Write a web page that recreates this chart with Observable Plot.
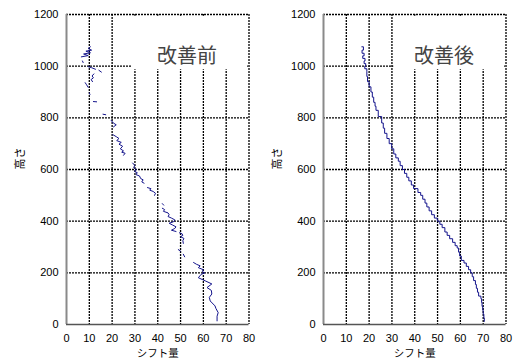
<!DOCTYPE html>
<html>
<head>
<meta charset="utf-8">
<script src="https://cdn.jsdelivr.net/npm/d3@7"></script>
<script src="https://cdn.jsdelivr.net/npm/@observablehq/plot@0.6"></script>
<style>
  html, body { margin: 0; padding: 0; background: #fff; }
  #wrap { display: flex; width: 515px; height: 364px; }
</style>
</head>
<body>
<div id="wrap"></div>
<script>
// ---- data ----
const panelTitles = ["改善前", "改善後"];
const xLabel = "シフト量";
const yLabel = "高さ";
const xTicks = [0, 10, 20, 30, 40, 50, 60, 70, 80];
const yTicks = [0, 200, 400, 600, 800, 1000, 1200];

// 改善前: broken, noisy trace (segments)
const beforeSegments = [
  [[10.5,1075],[9.5,1068],[11,1062],[8.5,1058],[10.5,1052],[7.5,1047],[9.5,1041],[6.5,1036]],
  [[7,1020],[7.3,1014]],
  [[9.5,998],[11,994],[12.7,988]],
  [[14.2,984],[15.3,977]],
  [[12,970],[11.2,962],[11.8,955],[10.8,948],[11.4,940]],
  [[8.2,936],[8.8,928],[9.5,918]],
  [[10,896],[10.3,891]],
  [[11.8,863],[13.2,862]],
  [[16,814],[17.2,812]],
  [[19.6,790],[20.5,780],[21.8,773],[20.6,765]],
  [[20.3,735],[22,726],[23,720],[22,712],[24,705],[23,698],[24.6,690],[23.6,680],[25,672],[24.2,667],[25.7,663],[25,655]],
  [[29,625],[30,615],[29.4,608],[30.6,600],[29.8,592],[31,588],[30.5,580],[32,575],[32.5,565],[33.6,560],[33,552],[34,547]],
  [[35.5,530],[37,526],[36.5,520],[38,515],[39,508],[38.6,500]],
  [[42,468],[42.6,462]],
  [[42,450],[43,445],[42.5,438],[44.5,432],[45,425],[44.5,418],[46,412],[47.5,405],[47,398],[45,392],[46.5,385],[48,378],[47.5,372],[46,365],[48,360]],
  [[49.5,355],[50.6,352],[51,345],[50,340],[51.5,333],[51,325],[51.2,314]],
  [[49,290],[50,284]],
  [[51.2,272],[51.8,262]],
  [[55.7,240],[57,233],[58.6,227],[57.8,220],[60,212],[59.5,205],[60.6,200],[59,194],[57.8,181],[60.8,169],[63.7,157],[61.6,143],[63.5,132],[63.7,118],[62.6,105],[63,91],[65.1,72],[65.5,62],[66.5,46],[66,32],[66,14]]
];

// 改善後: smooth staircase trace
const afterPoints = [
  [16.8,1075],[17.5,1062],[16.9,1050],[17.8,1040],[17.2,1030],[18.2,1020],[17.8,1010],[18.5,1000],[18.1,990],[19,978],
  [19,960],[19.3,940],[20,920],[20.8,900],[21.4,880],[22,860],[22.6,845],[23,829],[24,805],[25.5,780],
  [26.2,760],[26.8,740],[27.8,720],[28.8,700],[29.9,680],[30.8,660],[31.7,645],[32.8,632],[33.6,615],[34.6,600],
  [35.5,585],[36.5,570],[37.4,556],[38.5,540],[39.5,526],[41.4,511],[42.6,500],[43.5,485],[44.5,470],[45.3,455],
  [46.3,440],[47.4,425],[48.6,412],[49.9,400],[51,388],[52,375],[53.2,358],[54.2,345],[55.3,332],[56.6,318],
  [57.7,305],[58.6,296],[59.2,280],[59.7,265],[60.4,248],[61.6,238],[62.6,225],[63.6,212],[64.5,200],[65.2,185],
  [65.8,170],[66.6,155],[67,140],[67.5,125],[68,110],[69,100],[69.3,85],[69.5,70],[69.8,55],[70,40],[70.3,25],[70.5,12]
];

// ---- build ----
const FONT = "'Liberation Sans', Arial, 'Noto Sans CJK JP', sans-serif";
const CJK = "'Noto Sans CJK JP', sans-serif";

const beforeData = beforeSegments.flatMap((seg, i) => seg.map(([x, y]) => ({seg: i, x, y})));
const afterData = afterPoints.map(([x, y]) => ({x, y}));

function panel(title, lineMarks, boxX1, w) {
  return Plot.plot({
    width: w,
    height: 364,
    marginLeft: 66,
    marginRight: w - 66 - 182.5,
    marginTop: 14,
    marginBottom: 40,
    style: {fontFamily: FONT, fontSize: "11px", color: "#000", background: "#fff", overflow: "visible"},
    x: {domain: [0, 80], ticks: xTicks, tickSize: 0, tickPadding: 10, label: null, tickFormat: d => String(d)},
    y: {domain: [0, 1200], ticks: yTicks, tickSize: 0, tickPadding: 8, label: null, tickFormat: d => String(d)},
    marks: [
      Plot.ruleX(xTicks.filter(d => d > 0), {stroke: "#000", strokeWidth: 1.3, strokeDasharray: "2,1"}),
      Plot.ruleY(yTicks.filter(d => d > 0), {stroke: "#000", strokeWidth: 1.3, strokeDasharray: "2,1"}),
      Plot.rect([title], {x1: () => boxX1, x2: () => 79.4, y1: () => 986, y2: () => 1193, fill: "#fff"}),
      Plot.text([title], {text: d => d, frameAnchor: "top-right", dx: -62, dy: 34, textAnchor: "middle",
        fontSize: 20, fontFamily: CJK, fill: "#444"}),
      ...lineMarks,
      Plot.ruleX([0], {stroke: "#8a8a8a", strokeWidth: 2}),
      Plot.ruleY([0], {stroke: "#555", strokeWidth: 1.5}),
      Plot.text([xLabel], {text: d => d, frameAnchor: "bottom", dy: 32.5, fontSize: 10.5, fontFamily: CJK, fill: "#000"}),
      Plot.text([yLabel], {text: d => d, frameAnchor: "left", dx: -46, rotate: -90, fontSize: 11, fontFamily: CJK, fill: "#000"})
    ]
  });
}

const wrap = document.getElementById("wrap");
wrap.appendChild(panel(panelTitles[0], [
  Plot.line(beforeData, {x: "x", y: "y", z: "seg", stroke: "#14148c", strokeWidth: 1})
], 28.8, 257));
wrap.appendChild(panel(panelTitles[1], [
  Plot.line(afterData, {x: "x", y: "y", curve: "step-after", stroke: "#14148c", strokeWidth: 1})
], 30.8, 258));
</script>
</body>
</html>
